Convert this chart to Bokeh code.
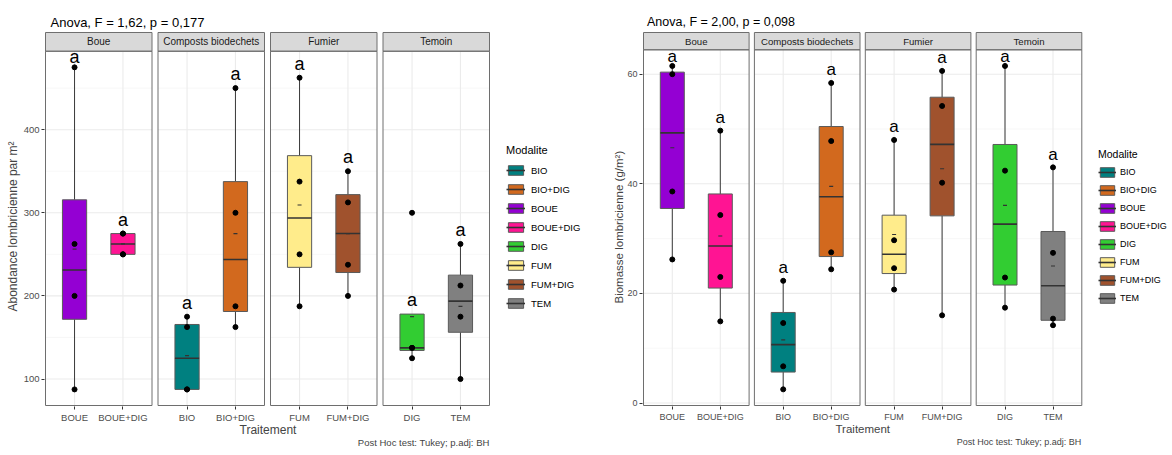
import numpy as np
from bokeh.plotting import figure
from bokeh.models import Range1d, FixedTicker, Title, Legend, LegendItem, ColumnDataSource
from bokeh.layouts import row
from bokeh.embed import file_html
from bokeh.resources import INLINE
from bokeh.core.properties import value

FONT = "Liberation Sans"

# ---------------- data ----------------
facets = ["Boue", "Composts biodechets", "Fumier", "Temoin"]
facet_categories = [["BOUE", "BOUE+DIG"], ["BIO", "BIO+DIG"], ["FUM", "FUM+DIG"], ["DIG", "TEM"]]
legend_order = ["BIO", "BIO+DIG", "BOUE", "BOUE+DIG", "DIG", "FUM", "FUM+DIG", "TEM"]
modalite_colors = ["#008080", "#D2691E", "#9400D3", "#FF1493", "#32CD32", "#FFEC8B", "#A0522D", "#808080"]

# Abondance lombricienne par m2 (individual plots)
abond_BIO = [87.5, 87.5, 162.5, 175.0]
abond_BIO_DIG = [162.5, 187.5, 300.0, 450.0]
abond_BOUE = [87.5, 200.0, 262.5, 475.0]
abond_BOUE_DIG = [250.0, 250.0, 275.0, 275.0]
abond_DIG = [125.0, 137.5, 137.5, 300.0]
abond_FUM = [187.5, 250.0, 337.5, 462.5]
abond_FUM_DIG = [200.0, 237.5, 312.5, 350.0]
abond_TEM = [100.0, 175.0, 212.5, 262.5]
letters_abond = ["a", "a", "a", "a", "a", "a", "a", "a"]
yticks_abond = [100, 200, 300, 400]
yminor_abond = [150, 250, 350, 450]

# Biomasse lombricienne (g/m2)
bio_BIO = [2.5, 6.7, 14.6, 22.3]
bio_BIO_DIG = [24.4, 27.5, 47.8, 58.4]
bio_BOUE = [26.2, 38.6, 60.0, 61.5]
bio_BOUE_DIG = [14.9, 23.0, 34.3, 49.7]
bio_DIG = [17.4, 22.9, 42.4, 61.5]
bio_FUM = [20.7, 24.6, 29.7, 48.0]
bio_FUM_DIG = [16.0, 40.2, 54.2, 60.6]
bio_TEM = [14.2, 15.4, 27.4, 43.0]
letters_bio = ["a", "a", "a", "a", "a", "a", "a", "a"]
yticks_bio = [0, 20, 40, 60]
yminor_bio = [10, 30, 50]

abond_series = dict(zip(legend_order, [abond_BIO, abond_BIO_DIG, abond_BOUE, abond_BOUE_DIG,
                                       abond_DIG, abond_FUM, abond_FUM_DIG, abond_TEM]))
bio_series = dict(zip(legend_order, [bio_BIO, bio_BIO_DIG, bio_BOUE, bio_BOUE_DIG,
                                     bio_DIG, bio_FUM, bio_FUM_DIG, bio_TEM]))
color_of = dict(zip(legend_order, modalite_colors))


def box_stats(vals):
    v = np.asarray(vals, float)
    q1, med, q3 = np.percentile(v, [25, 50, 75])
    iqr = q3 - q1
    inside = v[(v >= q1 - 1.5 * iqr) & (v <= q3 + 1.5 * iqr)]
    return q1, med, q3, min(q1, inside.min()), max(q3, inside.max()), v.mean()


def build_chart(series, letters, yticks, yminor, title_text, ylabel, geo, fs):
    allv = np.concatenate([np.asarray(v, float) for v in series.values()])
    span = allv.max() - allv.min()
    lo = allv.min() - 0.05 * span
    hi = allv.max() + 0.05 * span

    pad = 1.0
    fl = geo["panel_left"] - pad
    ft = geo["strip_top"] - pad
    fb = geo["panel_bottom"] + pad
    fr = geo["frame_right"]
    mbl = int(round(fl - geo["fig_left"]))
    fw = int(round(fr - fl))
    mbr = int(round(geo["fig_right"] - fr))
    mbt = int(round(ft - geo["fig_top"]))
    fh = int(round(fb - ft))
    mbb = int(round(geo["fig_bottom"] - fb))

    sx = geo["panel_w"] / 2.2
    gap_u = geo["gap"] / sx
    sy = (geo["panel_bottom"] - geo["strip_bottom"]) / (hi - lo)
    x0 = 0.4 - pad / sx
    x1 = x0 + fw / sx
    y0 = lo - pad / sy
    y1 = y0 + fh / sy
    strip_hi = y1 - pad / sy

    p = figure(width=mbl + fw + mbr, height=mbt + fh + mbb,
               x_range=Range1d(x0, x1), y_range=Range1d(y0, y1),
               min_border_left=mbl, min_border_right=mbr, min_border_top=mbt, min_border_bottom=mbb,
               output_backend="svg", toolbar_location=None, title=title_text)
    p.outline_line_color = None
    p.background_fill_color = "white"
    p.border_fill_color = "white"
    p.xgrid.visible = False
    p.ygrid.visible = False

    p.title.text_font = FONT
    p.title.text_font_size = fs["title"]
    p.title.text_font_style = "normal"
    p.title.text_color = "#000000"
    p.title.align = "left"
    p.title.offset = geo["title_dx"] + pad
    p.title.standoff = geo["title_standoff"]

    # axes
    p.yaxis.ticker = FixedTicker(ticks=yticks)
    p.yaxis.axis_line_color = None
    p.yaxis.major_tick_line_color = "#333333"
    p.yaxis.major_tick_out = 3
    p.yaxis.major_tick_in = 0
    p.yaxis.minor_tick_line_color = None
    p.yaxis.major_label_text_font = FONT
    p.yaxis.major_label_text_font_size = fs["tick"]
    p.yaxis.major_label_text_color = "#4D4D4D"
    p.yaxis.major_label_standoff = 2
    p.yaxis.axis_label_standoff = 0

    xt, overrides = [], {}
    for k, cats in enumerate(facet_categories):
        ox = k * (2.2 + gap_u)
        for j, cat in enumerate(cats):
            t = round(j + 1 + ox, 6)
            xt.append(t)
            overrides[t] = cat
            overrides[str(t)] = cat
    p.xaxis.ticker = FixedTicker(ticks=xt)
    p.xaxis.major_label_overrides = overrides
    p.xaxis.axis_line_color = None
    p.xaxis.major_tick_line_color = "#333333"
    p.xaxis.major_tick_out = 3
    p.xaxis.major_tick_in = 0
    p.xaxis.minor_tick_line_color = None
    p.xaxis.major_label_text_font = FONT
    p.xaxis.major_label_text_font_size = fs["tick"]
    p.xaxis.major_label_text_color = "#4D4D4D"
    p.xaxis.major_label_standoff = 2
    p.xaxis.axis_label_standoff = 0

    p.add_layout(Title(text=ylabel, align="left", offset=geo["ylab_offset"], text_font=FONT,
                       text_font_size=fs["axis"], text_font_style="normal", standoff=geo["ylab_standoff"]), "left")
    p.add_layout(Title(text="Traitement", align="left", offset=geo["xlab_offset"], text_font=FONT,
                       text_font_size=fs["axis"], text_font_style="normal",
                       standoff=geo["xlab_standoff"]), "below")
    p.add_layout(Title(text="Post Hoc test: Tukey; p.adj: BH", align="right", offset=geo["foot_offset"],
                       text_font=FONT, text_font_size=fs["foot"], text_font_style="normal",
                       standoff=geo["foot_standoff"]), "below")

    box_r, med_r = {}, {}
    letter_of = dict(zip(legend_order, letters))
    for k, (facet, cats) in enumerate(zip(facets, facet_categories)):
        ox = k * (2.2 + gap_u)
        L, R = 0.4 + ox, 2.6 + ox
        # panel background + grid
        p.quad(left=[L], right=[R], bottom=[lo], top=[hi], fill_color="white", line_color=None)
        ym = [m for m in yminor if lo < m < hi]
        p.segment(x0=[L] * len(ym), y0=ym, x1=[R] * len(ym), y1=ym, line_color="#F2F2F2", line_width=0.6)
        yM = [m for m in yticks if lo < m < hi]
        p.segment(x0=[L] * len(yM), y0=yM, x1=[R] * len(yM), y1=yM, line_color="#EBEBEB", line_width=1.1)
        xs = [1 + ox, 2 + ox]
        p.segment(x0=xs, y0=[lo, lo], x1=xs, y1=[hi, hi], line_color="#EBEBEB", line_width=1.1)
        # strip
        p.quad(left=[L], right=[R], bottom=[hi], top=[strip_hi], fill_color="#D9D9D9",
               line_color="#6E6E6E", line_width=1)
        p.text(x=[1.5 + ox], y=[(hi + strip_hi) / 2], text=[facet], text_align="center",
               text_baseline="middle", text_font=value(FONT), text_font_size=fs["strip"],
               text_color="#1A1A1A")
        for j, cat in enumerate(cats):
            xc = j + 1 + ox
            q1, med, q3, wlo, whi, mean = box_stats(series[cat])
            src = ColumnDataSource(dict(x=[xc], xl=[xc - 0.25], xr=[xc + 0.25], q1=[q1], q3=[q3],
                                        med=[med], wlo=[wlo], whi=[whi], mean=[mean]))
            p.segment(x0="x", y0="q3", x1="x", y1="whi", source=src, line_color="#3A3A3A", line_width=1)
            p.segment(x0="x", y0="wlo", x1="x", y1="q1", source=src, line_color="#3A3A3A", line_width=1)
            box_r[cat] = p.vbar(x="x", width=0.5, bottom="q1", top="q3", source=src,
                                fill_color=color_of[cat], line_color="#5A5A5A", line_width=1)
            med_r[cat] = p.segment(x0="xl", y0="med", x1="xr", y1="med", source=src,
                                   line_color="#333333", line_width=1.6)
            p.scatter(x="x", y="mean", source=src, marker="dash", size=4, line_color="#333333",
                      line_width=1.2)
            pts = series[cat]
            p.scatter(x=[xc] * len(pts), y=pts, size=5, fill_color="black", line_color="black")
            ly = min(whi + geo["letter_px"] / sy, hi - geo["letter_clamp"] / sy)
            p.text(x=[xc], y=[ly], text=[letter_of[cat]], text_align="center", text_baseline="middle",
                   text_font=value(FONT), text_font_size=fs["letter"], text_color="#000000")
        # panel border on top
        p.quad(left=[L], right=[R], bottom=[lo], top=[hi], fill_color=None, line_color="#6E6E6E",
               line_width=1)

    items = [LegendItem(label=cat, renderers=[box_r[cat], med_r[cat]]) for cat in legend_order]
    leg = Legend(items=items, location=(geo["leg_x"], geo["leg_y"]), title="Modalite",
                 title_text_font=FONT, title_text_font_size=fs["leg_title"], title_text_font_style="normal",
                 title_text_color="#000000", title_standoff=geo["leg_title_standoff"],
                 label_text_font=FONT, label_text_font_size=fs["leg"], label_text_color="#000000",
                 glyph_width=geo["glyph_w"], glyph_height=12, label_height=12, spacing=geo["leg_spacing"],
                 label_standoff=geo["label_standoff"], padding=0, margin=0,
                 border_line_color=None, background_fill_alpha=0)
    p.add_layout(leg)
    return p


geo_left = dict(fig_left=0, fig_right=595, fig_top=0, fig_bottom=455,
                panel_left=45, panel_w=106.5, gap=6, strip_top=28, strip_bottom=47, panel_bottom=406,
                frame_right=590, title_dx=5, title_standoff=4,
                ylab_offset=95, ylab_standoff=1, xlab_offset=195, foot_offset=101,
                xlab_standoff=-9, foot_standoff=5,
                letter_px=14, letter_clamp=6,
                leg_x=462, leg_y=97, leg_title_standoff=8, glyph_w=19, leg_spacing=7, label_standoff=6)
fs_left = dict(title="13px", tick="9.5px", axis="12px", foot="9.5px", strip="10px", letter="18px",
               leg_title="11px", leg="9.5px")

geo_right = dict(fig_left=595, fig_right=1172, fig_top=0, fig_bottom=455,
                 panel_left=643, panel_w=105.6, gap=5.3, strip_top=32, strip_bottom=49.3, panel_bottom=405,
                 frame_right=1168, title_dx=3.5, title_standoff=6,
                 ylab_offset=103, ylab_standoff=0, xlab_offset=193, foot_offset=87,
                 xlab_standoff=-8, foot_standoff=8,
                 letter_px=13, letter_clamp=6.5,
                 leg_x=456, leg_y=102, leg_title_standoff=6, glyph_w=18, leg_spacing=6, label_standoff=4)
fs_right = dict(title="12.5px", tick="9px", axis="11.5px", foot="9px", strip="9.6px", letter="17px",
                leg_title="10.5px", leg="9px")

p_left = build_chart(abond_series, letters_abond, yticks_abond, yminor_abond,
                     "Anova, F = 1,62, p = 0,177", "Abondance lombricienne par m²", geo_left, fs_left)
p_right = build_chart(bio_series, letters_bio, yticks_bio, yminor_bio,
                      "Anova, F = 2,00, p = 0,098", "Biomasse lombricienne (g/m²)", geo_right, fs_right)

layout = row(p_left, p_right)
open("out.html", "w").write(file_html(layout, INLINE))
